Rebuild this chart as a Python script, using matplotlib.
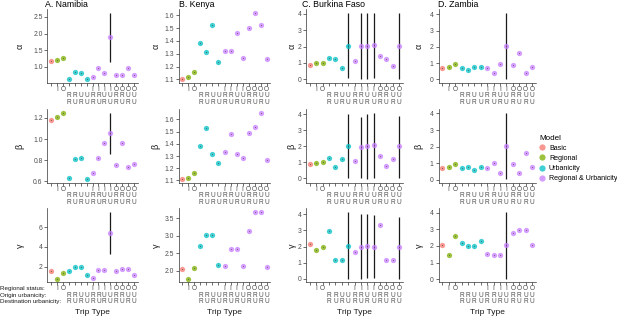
import matplotlib.pyplot as plt
from matplotlib.lines import Line2D

plt.rcParams['font.family'] = ['Liberation Sans', 'DejaVu Sans']

W, H = 617, 317

# trip types along the x axis
regional_status = ['', 'I', 'O', '', '', '', '', 'I', 'I', 'I', 'I', 'O', 'O', 'O', 'O']
origin_urb = ['', '', '', 'R', 'R', 'U', 'U', 'R', 'R', 'U', 'U', 'R', 'R', 'U', 'U']
dest_urb = ['', '', '', 'R', 'U', 'R', 'U', 'R', 'U', 'R', 'U', 'R', 'U', 'R', 'U']
trip_model = ['Basic', 'Regional', 'Regional'] + ['Urbanicity'] * 4 + ['Regional & Urbanicity'] * 8

models = ['Basic', 'Regional', 'Urbanicity', 'Regional & Urbanicity']
model_colors = ['#F8766D', '#7CAE00', '#00BFC4', '#C77CFF']

countries = ['A. Namibia', 'B. Kenya', 'C. Burkina Faso', 'D. Zambia']
params = ['α', 'β', 'γ']

# parameter estimates per trip type
namibia_alpha = [1.17, 1.21, 1.25, 0.63, 0.83, 0.81, 0.62, 0.68, 0.97, 0.82, 1.89, 0.75, 0.75, 0.96, 0.75]
namibia_beta = [1.18, 1.21, 1.25, 0.63, 0.81, 0.82, 0.62, 0.68, 0.82, 0.965, 1.06, 0.755, 0.965, 0.74, 0.76]
namibia_gamma = [1.53, 0.75, 1.36, 1.53, 2.0, 2.0, 1.12, 0.88, 1.63, 1.63, 5.36, 1.53, 1.7, 1.7, 1.15]
kenya_alpha = [1.10, 1.12, 1.155, 1.38, 1.31, 1.52, 1.235, 1.32, 1.32, 1.46, 1.27, 1.50, 1.62, 1.52, 1.26]
kenya_beta = [1.11, 1.12, 1.157, 1.38, 1.53, 1.32, 1.24, 1.33, 1.48, 1.32, 1.28, 1.49, 1.54, 1.655, 1.27]
kenya_gamma = [2.04, 1.77, 2.09, 2.71, 3.03, 3.03, 2.16, 2.13, 2.63, 2.63, 2.14, 3.13, 3.67, 3.69, 2.12]
burkina_alpha = [0.89, 1.0, 1.0, 1.30, 1.22, 0.69, 2.03, 1.10, 2.03, 2.03, 2.09, 1.42, 1.26, 0.79, 2.03]
burkina_beta = [0.87, 0.97, 1.02, 1.24, 0.69, 1.22, 2.03, 1.08, 1.97, 1.99, 2.07, 1.36, 0.77, 1.2, 1.99]
burkina_gamma = [2.16, 1.77, 2.0, 2.97, 1.18, 1.18, 2.06, 1.69, 2.0, 2.04, 2.0, 3.36, 1.18, 1.18, 1.96]
zambia_alpha = [0.71, 0.73, 0.95, 0.71, 0.57, 0.79, 0.77, 0.71, 0.38, 0.97, 2.04, 0.91, 1.6, 0.42, 0.79]
zambia_beta = [0.71, 0.76, 0.94, 0.71, 0.78, 0.57, 0.78, 0.71, 1.0, 0.41, 2.06, 0.94, 0.41, 1.61, 0.78]
zambia_gamma = [2.07, 1.47, 2.59, 2.17, 1.97, 1.97, 2.29, 1.51, 1.45, 1.45, 2.07, 2.75, 2.95, 2.95, 2.07]

# confidence intervals drawn: (trip position, low, high)
namibia_alpha_ci = [(11, 1.14, 2.63)]
namibia_beta_ci = [(11, 0.86, 1.25)]
namibia_gamma_ci = [(11, 3.22, 7.56)]
kenya_alpha_ci = []
kenya_beta_ci = []
kenya_gamma_ci = []
burkina_alpha_ci = [(7, 0.06, 4.07), (9, 0.0, 4.07), (10, 0.04, 4.07), (11, 0.08, 4.07), (15, 0.04, 4.07)]
burkina_beta_ci = [(7, 0.02, 4.0), (9, 0.04, 3.84), (10, -0.06, 4.0), (11, 0.0, 4.1), (15, 0.0, 3.92)]
burkina_gamma_ci = [(7, 0.0, 4.16), (9, 0.0, 4.02), (10, 0.06, 4.02), (11, 0.06, 3.98), (15, 0.0, 3.86)]
zambia_alpha_ci = [(11, 0.0, 4.1)]
zambia_beta_ci = [(11, 0.04, 4.04)]
zambia_gamma_ci = [(11, 0.02, 4.06)]

estimates = [[namibia_alpha, namibia_beta, namibia_gamma],
             [kenya_alpha, kenya_beta, kenya_gamma],
             [burkina_alpha, burkina_beta, burkina_gamma],
             [zambia_alpha, zambia_beta, zambia_gamma]]
intervals = [[namibia_alpha_ci, namibia_beta_ci, namibia_gamma_ci],
             [kenya_alpha_ci, kenya_beta_ci, kenya_gamma_ci],
             [burkina_alpha_ci, burkina_beta_ci, burkina_gamma_ci],
             [zambia_alpha_ci, zambia_beta_ci, zambia_gamma_ci]]

# y ticks per panel
yticks = [[[1.0, 1.5, 2.0, 2.5], [0.6, 0.8, 1.0, 1.2], [2, 4, 6]],
          [[1.1, 1.2, 1.3, 1.4, 1.5, 1.6], [1.1, 1.2, 1.3, 1.4, 1.5, 1.6], [2.0, 2.5, 3.0, 3.5]],
          [[0, 1, 2, 3, 4]] * 3,
          [[0, 1, 2, 3, 4]] * 3]
yfmt = [['{:.1f}', '{:.1f}', '{:.0f}'], ['{:.1f}', '{:.1f}', '{:.1f}'],
        ['{:.0f}'] * 3, ['{:.0f}'] * 3]

# layout in pixels
col_left = [47.4, 178.7, 306.2, 438.5]
col_right = [137.6, 270.3, 402.8, 535.8]
row_top = [9.3, 109.4, 208.3]
row_bot = [82.7, 182.5, 282.2]
ylab_x = [24.5, 160.5, 296.7, 423.5]
title_x = [45, 179, 302, 438]

fig = plt.figure(figsize=(W / 100, H / 100), dpi=100)

xpos = list(range(1, 16))
color_of = dict(zip(models, model_colors))
axis_col = '#333333'
tick_col = '#4D4D4D'
row_off = [6.6, 13.1, 19.7]  # pixel offsets of the three label rows under the axis

for ci in range(4):
    for ri in range(3):
        l, r = col_left[ci], col_right[ci]
        t, b = row_top[ri], row_bot[ri]
        ax = fig.add_axes([l / W, 1 - b / H, (r - l) / W, (b - t) / H])
        vals = estimates[ci][ri]
        cis = intervals[ci][ri]

        for (p, lo, hi) in cis:
            ax.plot([p, p], [lo, hi], color='#1a1a1a', lw=0.9, solid_capstyle='butt', zorder=2)
        for x, v, m in zip(xpos, vals, trip_model):
            ax.plot(x, v, 'o', ms=3.8, mew=0, color=color_of[m], alpha=0.75, zorder=3)
            ax.plot(x, v, 'o', ms=0.8, mew=0, color='#333333', alpha=0.6, zorder=4)

        lows = list(vals) + [c[1] for c in cis]
        highs = list(vals) + [c[2] for c in cis]
        lo, hi = min(lows), max(highs)
        pad = (hi - lo) * 0.05
        ax.set_ylim(lo - pad, hi + pad)
        ax.set_xlim(0.4, 15.6)

        # three-row trip type labels
        ax.set_xticks(xpos)
        ax.set_xticklabels([])
        ph = b - t
        for k, row in enumerate([regional_status, origin_urb, dest_urb]):
            for x, s in zip(xpos, row):
                if s:
                    ax.text(x, -row_off[k] / ph, s, transform=ax.get_xaxis_transform(), fontsize=4.7,
                            color=tick_col, ha='center', va='center')

        ax.set_yticks(yticks[ci][ri])
        ax.set_yticklabels([yfmt[ci][ri].format(v) for v in yticks[ci][ri]], fontsize=4.9, color=tick_col)
        ax.tick_params(length=2, width=0.5, color=axis_col, pad=1.5)
        for s in ['top', 'right']:
            ax.spines[s].set_visible(False)
        for s in ['left', 'bottom']:
            ax.spines[s].set_linewidth(0.5)
            ax.spines[s].set_color(axis_col)
        ax.set_facecolor('none')

        ax.set_ylabel(params[ri], fontsize=6.5, color='#1a1a1a')
        ax.yaxis.set_label_coords((ylab_x[ci] - l) / (r - l), 0.5)

    fig.text(title_x[ci] / W, 1 - 4.5 / H, countries[ci], fontsize=6.3, ha='left', va='center', color='black')
    fig.text((col_left[ci] + col_right[ci]) / 2 / W, 1 - 312.5 / H, 'Trip Type', fontsize=6.0,
             ha='center', va='center', color='#1a1a1a')

# row names for the x labels
for txt, k in zip(['Regional status:', 'Origin urbanicity:', 'Destination urbanicity:'], range(3)):
    fig.text(0.5 / W, 1 - (row_bot[2] + row_off[k]) / H, txt, fontsize=4.5, ha='left', va='center',
             color='#1a1a1a')

handles = [Line2D([], [], ls='', marker='o', ms=4.5, mew=0, color=c, alpha=0.75) for c in model_colors]
leg = fig.legend(handles, models, loc='upper left', bbox_to_anchor=(539 / W, 1 - 134.5 / H), frameon=False,
                 title='Model', fontsize=5.1, title_fontsize=5.8, alignment='left', handlelength=0.8,
                 handletextpad=0.6, labelspacing=0.45, borderpad=0, borderaxespad=0)

fig.savefig('out.png', dpi=100)
